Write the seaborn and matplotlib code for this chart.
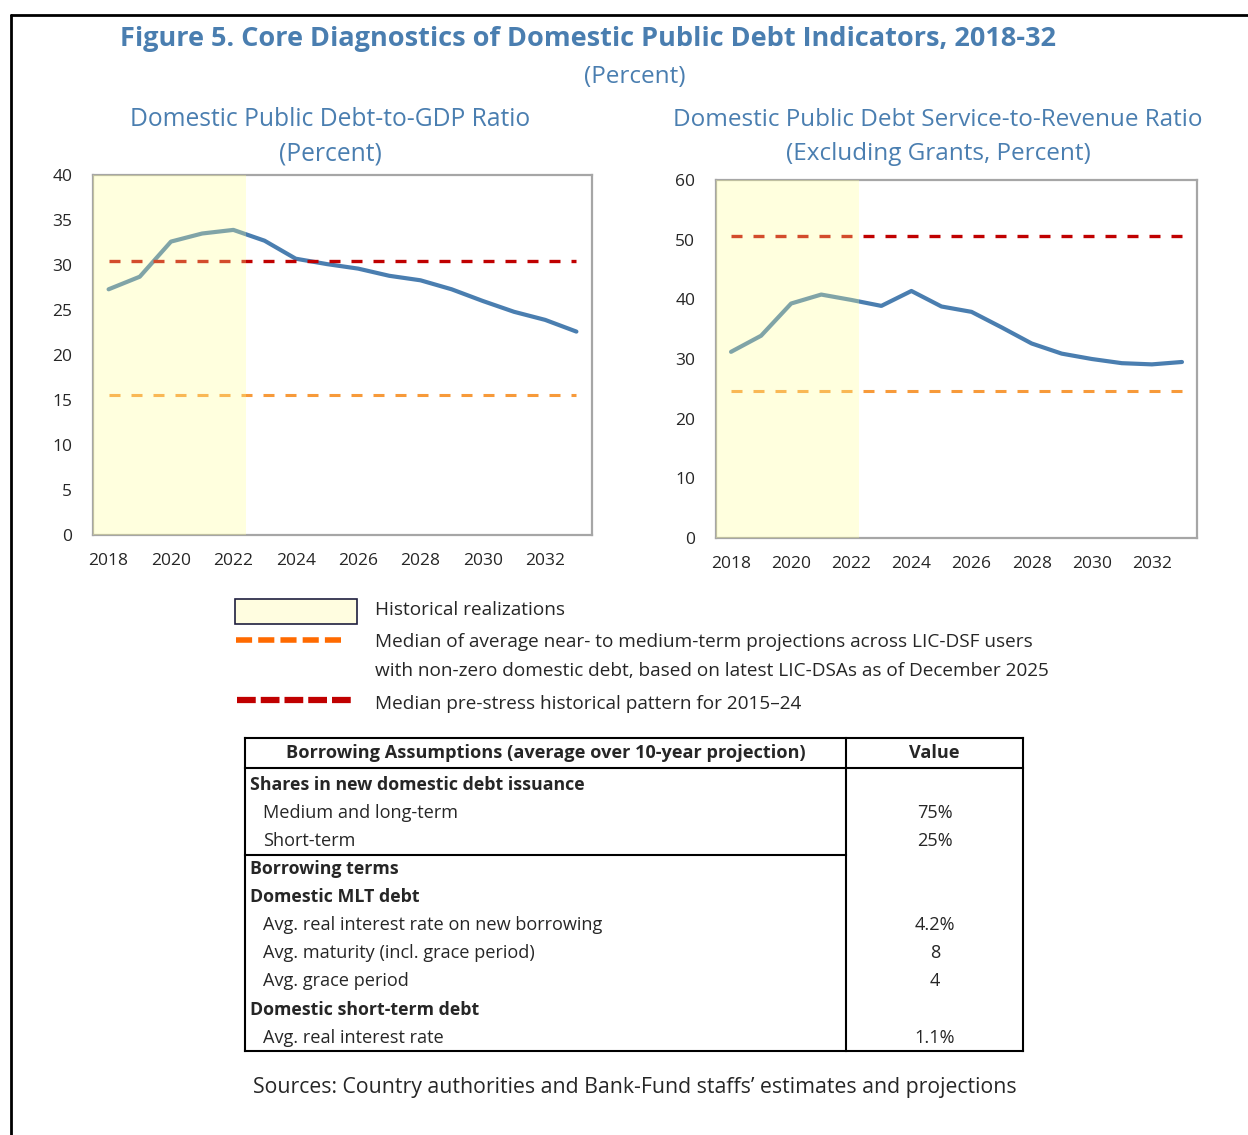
import matplotlib
matplotlib.use("Agg")
import matplotlib.pyplot as plt
import seaborn as sns
from matplotlib.patches import Rectangle
from matplotlib.lines import Line2D

# data
years = list(range(2018, 2034))
hist_end = 2022
debt_gdp = [27.3, 28.7, 32.6, 33.5, 33.9, 32.7, 30.7, 30.1, 29.6, 28.8, 28.3, 27.3, 26.0, 24.8, 23.9, 22.6]
debt_service = [31.2, 33.9, 39.3, 40.8, 39.9, 38.9, 41.4, 38.8, 37.9, 35.3, 32.6, 30.9, 30.0, 29.3, 29.1, 29.5]
gdp_median_hist = 30.4
gdp_median_proj = 15.6
svc_median_hist = 50.6
svc_median_proj = 24.7

table_rows = [
    ("Shares in new domestic debt issuance", "", True),
    ("Medium and long-term", "75%", False),
    ("Short-term", "25%", False),
    ("Borrowing terms", "", True),
    ("Domestic MLT debt", "", True),
    ("Avg. real interest rate on new borrowing", "4.2%", False),
    ("Avg. maturity (incl. grace period)", "8", False),
    ("Avg. grace period", "4", False),
    ("Domestic short-term debt", "", True),
    ("Avg. real interest rate", "1.1%", False),
]

BLUE = "#4A7EB0"
TITLE_BLUE = "#4A7EB0"
RED = "#C00000"
ORANGE = "#F79A3A"
SPINE = "#A6A6A6"

sns.set_style("white")
plt.rcParams["font.family"] = ["Open Sans", "DejaVu Sans"]

W, H = 1248, 1135
fig = plt.figure(figsize=(W / 100, H / 100), dpi=100)


def px_axes(x0, y0, x1, y1):
    return fig.add_axes([x0 / W, 1 - y1 / H, (x1 - x0) / W, (y1 - y0) / H])


def draw_panel(ax, values, hist_line, proj_line, ymax, ystep, shade_end):
    sns.lineplot(x=years, y=values, ax=ax, color=BLUE, lw=3.0, zorder=2)
    ax.hlines(hist_line, years[0], years[-1], color=RED, lw=2.4,
              linestyles=(0, (3.3, 3.3)), zorder=2)
    ax.hlines(proj_line, years[0], years[-1], color=ORANGE, lw=2.2,
              linestyles=(0, (3.6, 3.6)), zorder=2)
    ax.axvspan(years[0] - 0.5, shade_end, color=(1, 1, 148 / 255),
               alpha=0.3, lw=0, zorder=3)
    ax.set_xlim(years[0] - 0.5, years[-1] + 0.5)
    ax.set_ylim(0, ymax)
    ax.set_yticks(range(0, ymax + 1, ystep))
    ax.set_xticks(years[::2])
    ax.set_xticks([y + 0.5 for y in years[:-1]], minor=True)
    ax.tick_params(axis="x", which="major", length=0, pad=13, labelsize=12.5)
    ax.tick_params(axis="x", which="minor", length=5, width=1.3, color=SPINE,
                   direction="in")
    ax.tick_params(axis="y", length=5, width=1.3, color=SPINE, direction="out",
                   pad=10, labelsize=12.5)
    for s in ax.spines.values():
        s.set_color(SPINE)
        s.set_linewidth(1.6)
    ax.set_xlabel("")
    ax.set_ylabel("")


ax1 = px_axes(93, 175, 592, 535)
draw_panel(ax1, debt_gdp, gdp_median_hist, gdp_median_proj, 40, 5, hist_end + 0.42)
ax2 = px_axes(716, 180, 1197, 538)
draw_panel(ax2, debt_service, svc_median_hist, svc_median_proj, 60, 10, hist_end + 0.27)

# overlay axes in pixel coordinates for texts, legend and table
ov = fig.add_axes([0, 0, 1, 1], zorder=-1)
ov.set_xlim(0, W)
ov.set_ylim(H, 0)
ov.axis("off")
ov.patch.set_alpha(0)

# frame
ov.plot([11, W], [15, 15], color="black", lw=2)
ov.plot([11, 11], [15, H], color="black", lw=2)

ov.text(588, 39, "Figure 5. Core Diagnostics of Domestic Public Debt Indicators, 2018-32",
        ha="center", va="center", fontsize=19.5, fontweight="bold", color=TITLE_BLUE)
ov.text(635, 77, "(Percent)", ha="center", va="center", fontsize=17.5, color=TITLE_BLUE)
ov.text(330, 120, "Domestic Public Debt-to-GDP Ratio", ha="center", va="center",
        fontsize=17.7, color=TITLE_BLUE)
ov.text(330, 154, "(Percent)", ha="center", va="center", fontsize=17.7, color=TITLE_BLUE)
ov.text(938, 120, "Domestic Public Debt Service-to-Revenue Ratio", ha="center",
        va="center", fontsize=17.5, color=TITLE_BLUE)
ov.text(938, 154, "(Excluding Grants, Percent)", ha="center", va="center",
        fontsize=17.5, color=TITLE_BLUE)

# legend
ov.add_patch(Rectangle((235, 599), 122, 25, facecolor="#FFFDE0", edgecolor="#1F1F3F", lw=1.2))
ov.add_line(Line2D([236, 342], [640, 640], color="#FF6A00", lw=4, dashes=(2.9, 1.1)))
ov.add_line(Line2D([237, 354], [700, 700], color=RED, lw=4.5, dashes=(3.0, 0.8)))
leg_fs = 13.7
ov.text(375, 610, "Historical realizations", va="center", fontsize=leg_fs)
ov.text(375, 642, "Median of average near- to medium-term projections across LIC-DSF users",
        va="center", fontsize=leg_fs)
ov.text(375, 671, "with non-zero domestic debt, based on latest LIC-DSAs as of December 2025",
        va="center", fontsize=leg_fs)
ov.text(375, 704, "Median pre-stress historical pattern for 2015\u201324", va="center",
        fontsize=leg_fs)

# table
tl, tr, tdiv, ttop, thead, tbot = 245, 1023, 846, 738, 768, 1051
for x0, y0, x1, y1 in [(tl, ttop, tr, ttop), (tl, tbot, tr, tbot), (tl, ttop, tl, tbot),
                       (tr, ttop, tr, tbot), (tdiv, ttop, tdiv, tbot),
                       (tl, thead, tr, thead), (tl, 855, tdiv, 855)]:
    ov.plot([x0, x1], [y0, y1], color="black", lw=1.5, solid_capstyle="projecting")
tab_fs = 13.1
ov.text((tl + tdiv) / 2, 753, "Borrowing Assumptions (average over 10-year projection)",
        ha="center", va="center", fontsize=13.1, fontweight="bold")
ov.text((tdiv + tr) / 2, 753, "Value", ha="center", va="center", fontsize=13.1,
        fontweight="bold")
row_y = [785, 813, 841, 869, 897, 925, 953, 981, 1010, 1038]
for (label, val, bold), y in zip(table_rows, row_y):
    ov.text(250 if bold else 263, y, label, va="center", fontsize=12.8 if bold else tab_fs,
            fontweight="bold" if bold else "normal")
    if val:
        ov.text(935, y, val, ha="center", va="center", fontsize=tab_fs)

ov.text(635, 1088, "Sources: Country authorities and Bank-Fund staffs\u2019 estimates and projections",
        ha="center", va="center", fontsize=15.3)

fig.savefig("out.png", dpi=100)
